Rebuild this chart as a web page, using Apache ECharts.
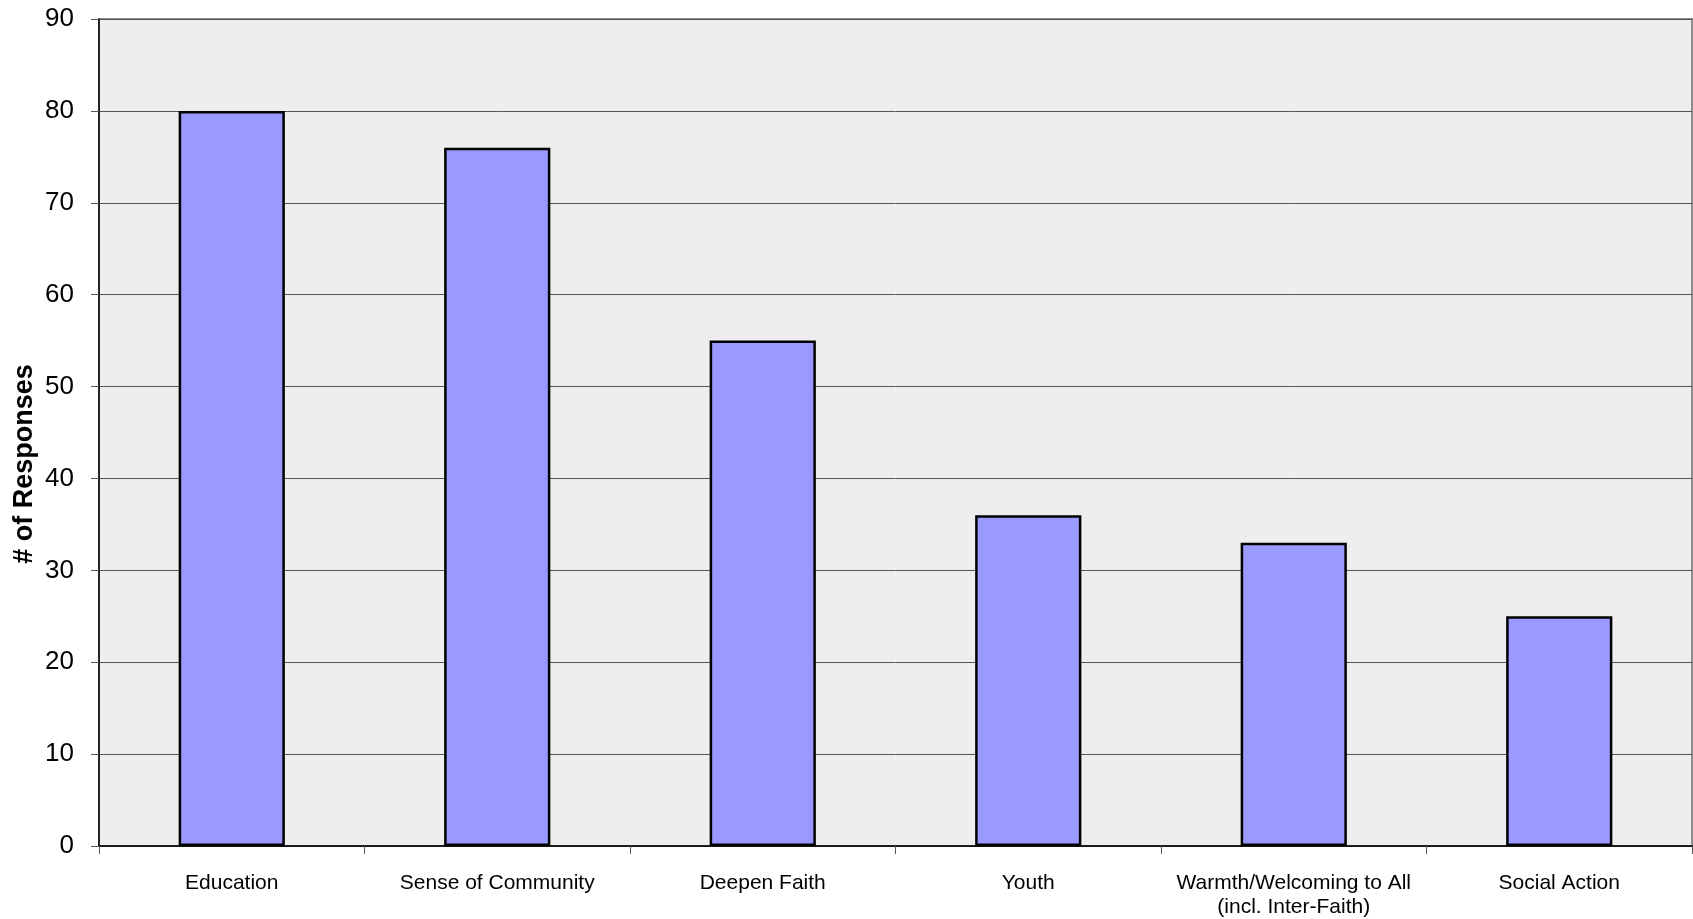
<!DOCTYPE html>
<html>
<head>
<meta charset="utf-8">
<script src="https://cdn.jsdelivr.net/npm/echarts@6/dist/echarts.min.js"></script>
<style>
html,body{margin:0;padding:0;background:#fff;}
#chart{width:1693px;height:919px;}
</style>
</head>
<body>
<div id="chart"></div>
<script>
var categories = ["Education", "Sense of Community", "Deepen Faith", "Youth", "Warmth/Welcoming to All\n(incl. Inter-Faith)", "Social Action"];
var responses = [80, 76, 55, 36, 33, 25];
var yTicks = {min: 0, max: 90, interval: 10};
var yName = "# of Responses";

var font = "'Liberation Sans', Arial, sans-serif";
var chart = echarts.init(document.getElementById('chart'));
chart.setOption({
  animation: false,
  backgroundColor: '#ffffff',
  grid: {
    left: 99, right: 1, top: 19, bottom: 72,
    show: true, backgroundColor: '#EEEEEE', borderColor: '#8c8c8c', borderWidth: 2
  },
  xAxis: {
    type: 'category',
    data: categories,
    axisLine: {show: true, lineStyle: {color: '#000', width: 1.5}},
    axisTick: {show: true, length: 8, alignWithLabel: false, lineStyle: {color: '#555'}},
    axisLabel: {fontFamily: font, fontSize: 21, color: '#000', margin: 25, lineHeight: 24, interval: 0}
  },
  yAxis: {
    type: 'value',
    min: yTicks.min, max: yTicks.max, interval: yTicks.interval,
    axisLine: {show: true, lineStyle: {color: '#000', width: 1.5}},
    axisTick: {show: true, length: 8, lineStyle: {color: '#555'}},
    splitLine: {show: true, lineStyle: {color: '#555', width: 1}},
    axisLabel: {fontFamily: font, fontSize: 26, color: '#000', margin: 25}
  },
  graphic: [{
    type: 'text',
    x: 25, y: 464,
    rotation: Math.PI / 2,
    style: {
      text: yName,
      font: 'bold 27px ' + font,
      fill: '#000',
      textAlign: 'center',
      textVerticalAlign: 'middle'
    }
  }],
  series: [{
    type: 'bar',
    data: responses,
    barWidth: '40%',
    itemStyle: {color: '#9999FF', borderColor: '#000', borderWidth: 2.5}
  }]
});
</script>
</body>
</html>
